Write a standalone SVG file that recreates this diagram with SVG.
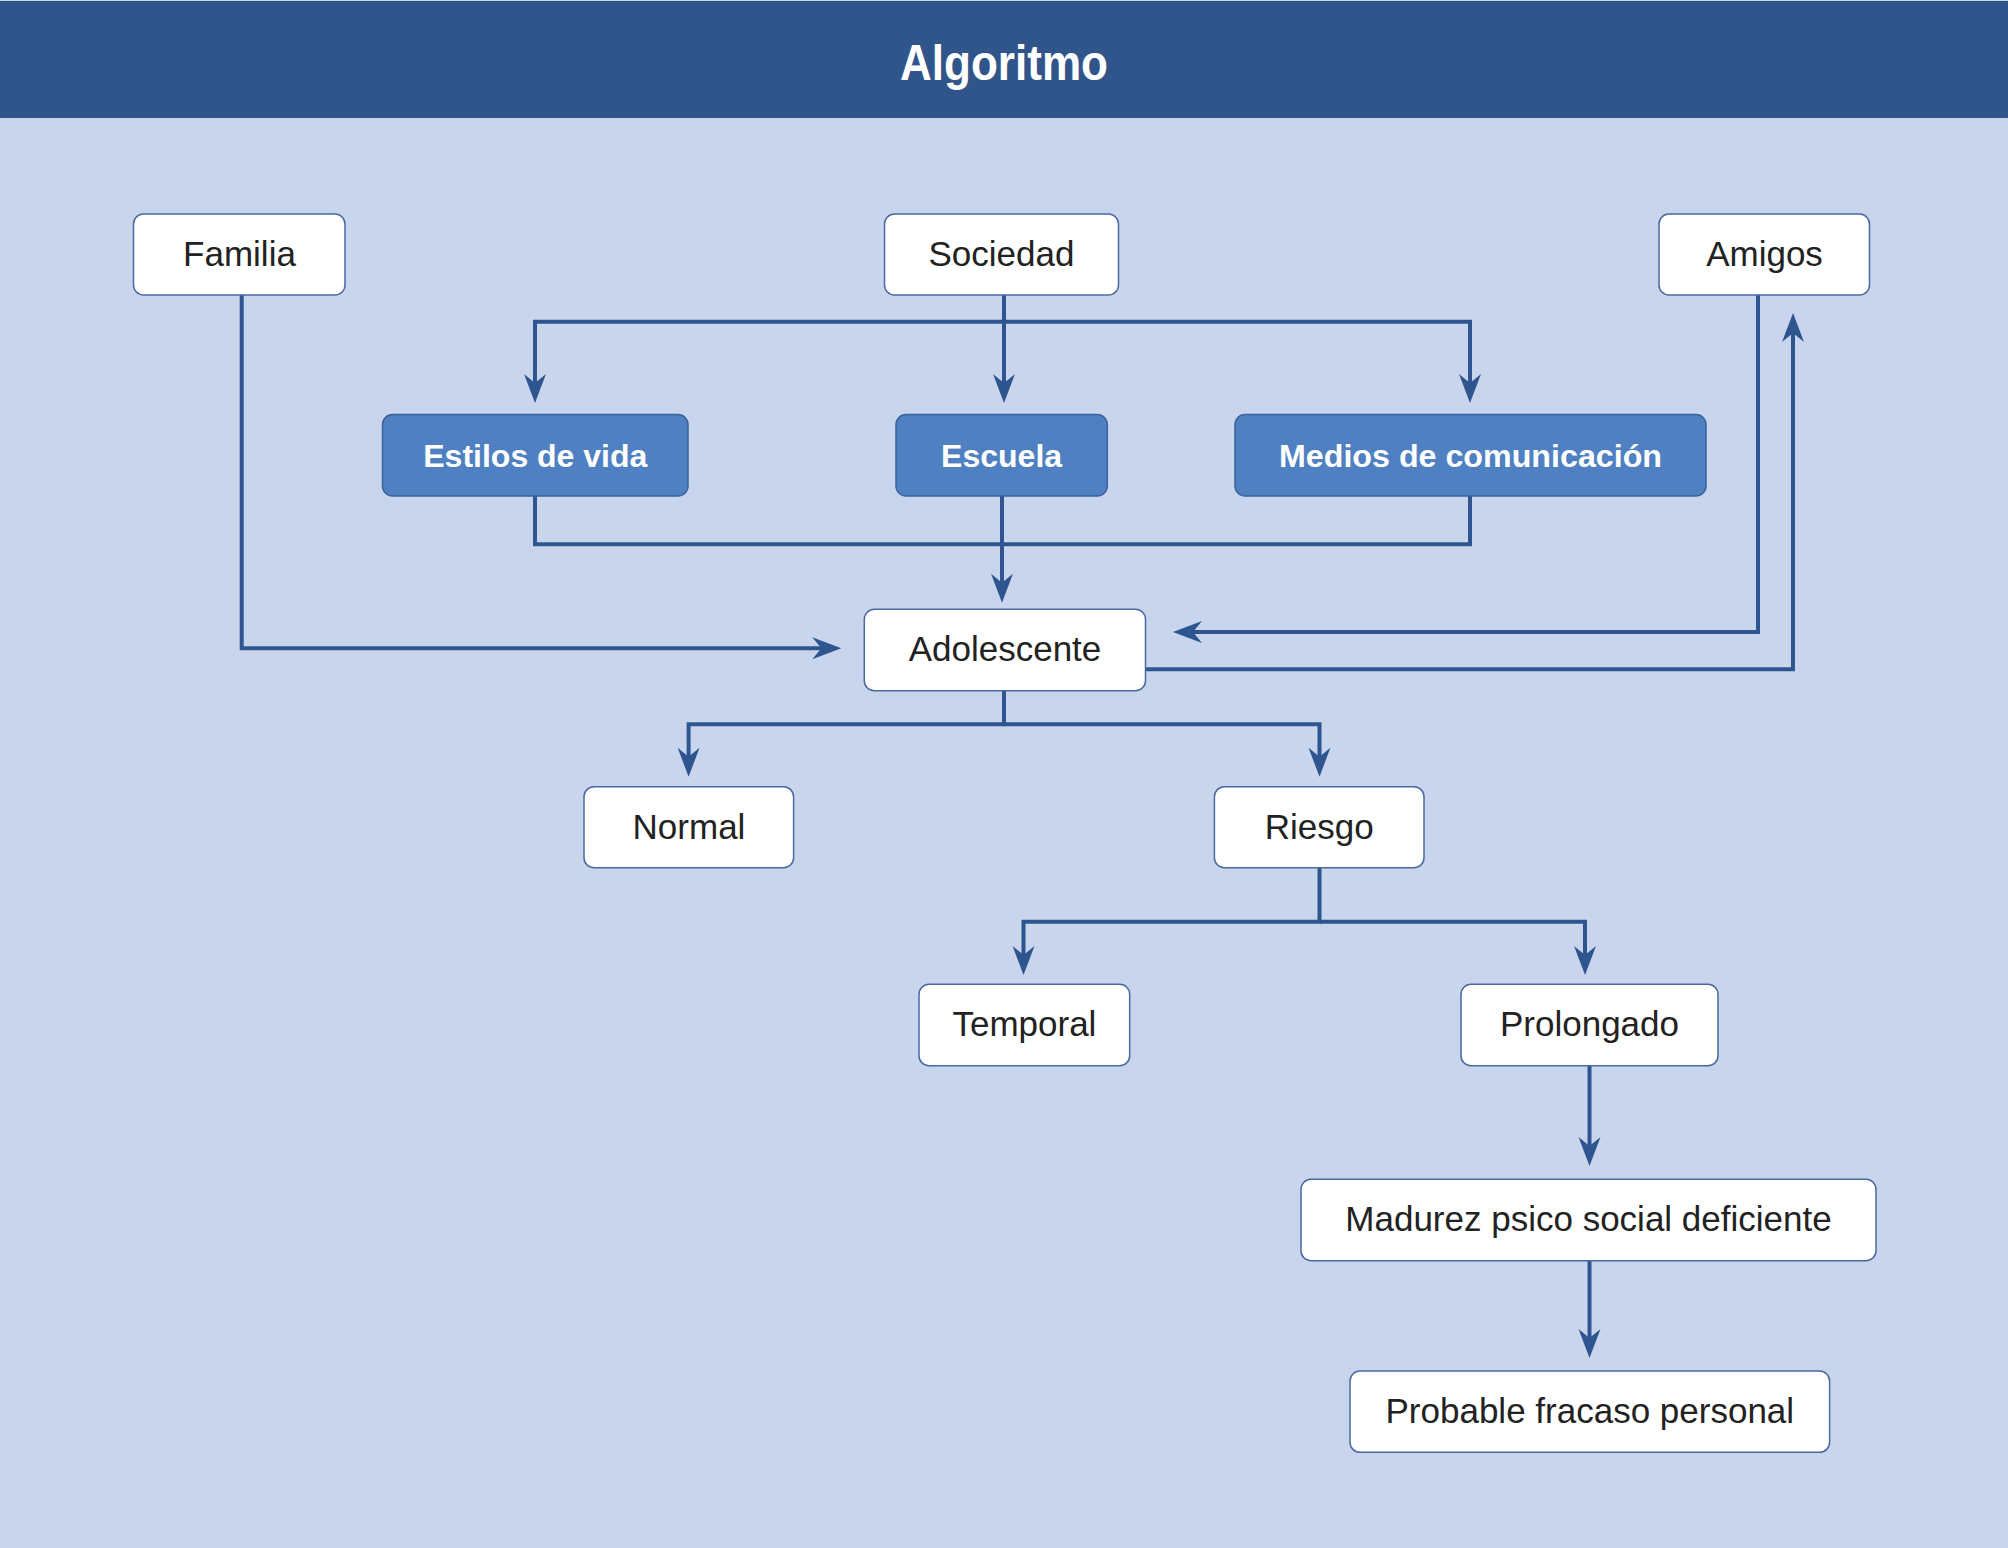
<svg xmlns="http://www.w3.org/2000/svg" width="2008" height="1548" viewBox="0 0 2008 1548">
<style>
.bg{fill:#c9d5ec}
.hdr{fill:#30558a}
.title{font-family:"Liberation Sans",Arial,sans-serif;font-weight:bold;font-size:50px;fill:#ffffff;text-anchor:middle}
.wn rect{fill:#ffffff;stroke:#4a69a2;stroke-width:1.5}
.bn rect{fill:#4f81c2;stroke:#3a62a0;stroke-width:1.5}
.wn text{font-family:"Liberation Sans",Arial,sans-serif;font-size:35px;fill:#222222;text-anchor:middle}
.bn text{font-family:"Liberation Sans",Arial,sans-serif;font-weight:bold;font-size:32px;fill:#ffffff;text-anchor:middle}
.c path{fill:none;stroke:#2e5590;stroke-width:4}
.c path.a{marker-end:url(#arr)}
</style>
<defs>
<marker id="arr" markerUnits="userSpaceOnUse" markerWidth="32" markerHeight="24" viewBox="-2 -12 32 24" refX="9" refY="0" orient="auto">
<path d="M27,0 L-2,-11 L7,0 L-2,11 Z" fill="#2e5590"/>
</marker>
</defs>
<rect class="bg" x="0" y="0" width="2008" height="1548"/>
<rect class="hdr" x="0" y="1" width="2008" height="117"/>
<text class="title" x="1004" y="80" textLength="208" lengthAdjust="spacingAndGlyphs">Algoritmo</text>

<g class="c" id="connectors">
<path class="a" d="M1004,295 V385"/>
<path class="a" d="M1004,321.7 H535 V385"/>
<path class="a" d="M1004,321.7 H1470 V385"/>
<path d="M535,496 V544.3 H1470 V496"/>
<path class="a" d="M1002,496 V584.7"/>
<path class="a" d="M241.7,295 V648.3 H823.3"/>
<path class="a" d="M1758,295 V632 H1191"/>
<path class="a" d="M1145.5,669.3 H1793 V331"/>
<path class="a" d="M1004,690.7 V724.3 H688.6 V758.7"/>
<path class="a" d="M1004,724.3 H1319.5 V758.7"/>
<path class="a" d="M1319.5,867.7 V921.7 H1023.5 V957"/>
<path class="a" d="M1319.5,921.7 H1585 V957"/>
<path class="a" d="M1589.5,1066 V1148"/>
<path class="a" d="M1589.5,1260.7 V1340"/>
</g>

<g id="familia" class="wn"><rect x="133.5" y="214" width="211.5" height="81" rx="10"/><text x="239.5" y="265.5">Familia</text></g>
<g id="sociedad" class="wn"><rect x="884.5" y="214" width="234" height="81" rx="10"/><text x="1001.5" y="265.5">Sociedad</text></g>
<g id="amigos" class="wn"><rect x="1659" y="214" width="210.5" height="81" rx="10"/><text x="1764.5" y="265.5">Amigos</text></g>
<g id="estilos" class="bn"><rect x="382.5" y="414.5" width="305.5" height="81.5" rx="10"/><text x="535.3" y="466.7">Estilos de vida</text></g>
<g id="escuela" class="bn"><rect x="896" y="414.5" width="211.3" height="81.5" rx="10"/><text x="1001.6" y="466.7">Escuela</text></g>
<g id="medios" class="bn"><rect x="1235" y="414.5" width="471" height="81.5" rx="10"/><text x="1470.5" y="466.7" textLength="383" lengthAdjust="spacingAndGlyphs">Medios de comunicación</text></g>
<g id="adolescente" class="wn"><rect x="864.3" y="609.3" width="281.2" height="81.4" rx="10"/><text x="1005" y="661">Adolescente</text></g>
<g id="normal" class="wn"><rect x="584" y="786.7" width="209.6" height="81" rx="10"/><text x="689" y="838.5">Normal</text></g>
<g id="riesgo" class="wn"><rect x="1214.4" y="786.7" width="209.6" height="81" rx="10"/><text x="1319.2" y="838.5">Riesgo</text></g>
<g id="temporal" class="wn"><rect x="919" y="984.3" width="210.7" height="81.4" rx="10"/><text x="1024.4" y="1036">Temporal</text></g>
<g id="prolongado" class="wn"><rect x="1461" y="984.3" width="257" height="81.4" rx="10"/><text x="1589.5" y="1036">Prolongado</text></g>
<g id="madurez" class="wn"><rect x="1301" y="1179.3" width="575" height="81.4" rx="10"/><text x="1588.5" y="1231">Madurez psico social deficiente</text></g>
<g id="probable" class="wn"><rect x="1350" y="1371" width="479.6" height="81.3" rx="10"/><text x="1589.8" y="1422.7">Probable fracaso personal</text></g>
</svg>
